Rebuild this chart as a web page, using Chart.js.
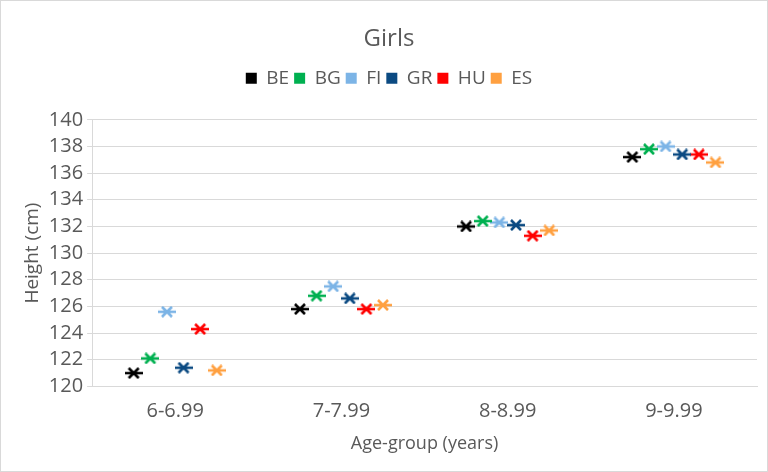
<!DOCTYPE html>
<html>
<head>
<meta charset="utf-8">
<script src="https://cdn.jsdelivr.net/npm/chart.js@4.4.0/dist/chart.umd.min.js"></script>
<style>
  html, body { margin: 0; padding: 0; background: #fff; }
  #wrap { position: relative; width: 766px; height: 470px; border: 1px solid #d9d9d9; }
</style>
</head>
<body>
<div id="wrap"><canvas id="chart"></canvas></div>
<script>
// Age groups (x categories)
const ageGroups = ['6-6.99', '7-7.99', '8-8.99', '9-9.99'];

// Mean height per country, cm
const countries = ['BE', 'BG', 'FI', 'GR', 'HU', 'ES'];
const heightBE = [121.0, 125.8, 132.0, 137.2];
const heightBG = [122.1, 126.8, 132.4, 137.8];
const heightFI = [125.6, 127.5, 132.3, 138.0];
const heightGR = [121.4, 126.6, 132.1, 137.4];
const heightHU = [124.3, 125.8, 131.3, 137.4];
const heightES = [121.2, 126.1, 131.7, 136.8];

// y axis ticks
const yTicks = [120, 122, 124, 126, 128, 130, 132, 134, 136, 138, 140];

const seriesValues = [heightBE, heightBG, heightFI, heightGR, heightHU, heightES];
const colors = ['#000000', '#00b050', '#7cb4e6', '#0b4a82', '#ff0000', '#ffa040'];
// small horizontal shift of each country inside its age group
const offsets = [-0.25, -0.15, -0.05, 0.05, 0.15, 0.25];

const font = "'Open Sans', 'DejaVu Sans', sans-serif";
const textColor = '#595959';

/**
 * Asterisk marker like the spreadsheet one: a bar with an X over it
 */
function makeMarker(color) {
  const c = document.createElement('canvas');
  c.width = 18;
  c.height = 12;
  const g = c.getContext('2d');
  g.strokeStyle = color;
  g.lineWidth = 2.6;
  g.beginPath();
  g.moveTo(0, 6); g.lineTo(18, 6);
  g.moveTo(4, 1); g.lineTo(14, 11);
  g.moveTo(14, 1); g.lineTo(4, 11);
  g.stroke();
  return c;
}

const datasets = countries.map((name, i) => ({
  label: name,
  data: seriesValues[i].map((v, k) => ({ x: k + 1 + offsets[i], y: v })),
  backgroundColor: colors[i],
  borderColor: colors[i],
  pointStyle: makeMarker(colors[i]),
  pointRadius: 8,
  showLine: false
}));

// extra room under the legend
const legendGap = {
  id: 'legendGap',
  beforeInit(chart) {
    const fit = chart.legend.fit;
    chart.legend.fit = function () {
      fit.bind(chart.legend)();
      this.height += 22;
    };
  }
};

new Chart(document.getElementById('chart'), {
  type: 'scatter',
  data: { datasets },
  plugins: [legendGap],
  options: {
    responsive: true,
    maintainAspectRatio: false,
    animation: false,
    layout: { padding: { left: 20, right: 10, top: 10, bottom: 12 } },
    plugins: {
      tooltip: { enabled: false },
      title: {
        display: true,
        text: 'Girls',
        color: textColor,
        font: { family: font, size: 24, weight: 'normal' },
        padding: { top: 14, bottom: 10 }
      },
      legend: {
        display: true,
        position: 'top',
        labels: {
          color: textColor,
          font: { family: font, size: 19 },
          boxWidth: 11,
          boxHeight: 11,
          padding: 5,
          generateLabels: chart => countries.map((name, i) => ({
            text: name,
            fillStyle: colors[i],
            strokeStyle: colors[i],
            lineWidth: 0,
            datasetIndex: i,
            fontColor: textColor
          }))
        }
      }
    },
    scales: {
      x: {
        type: 'linear',
        min: 0.5,
        max: 4.5,
        afterBuildTicks: axis => {
          axis.ticks = ageGroups.map((_, k) => ({ value: k + 1 }));
        },
        ticks: {
          color: textColor,
          font: { family: font, size: 20 },
          padding: 5,
          autoSkip: false,
          callback: v => ageGroups[Math.round(v) - 1] || ''
        },
        grid: { display: false },
        border: { display: true, color: '#d9d9d9' },
        title: {
          display: true,
          text: 'Age-group (years)',
          color: textColor,
          font: { family: font, size: 18 },
          padding: { top: 5 }
        }
      },
      y: {
        min: 120,
        max: 140,
        afterBuildTicks: axis => {
          axis.ticks = yTicks.map(v => ({ value: v }));
        },
        ticks: {
          color: textColor,
          font: { family: font, size: 20 },
          padding: 4,
          autoSkip: false
        },
        grid: { color: '#d9d9d9', tickLength: 5 },
        border: { display: true, color: '#d9d9d9' },
        title: {
          display: true,
          text: 'Height (cm)',
          color: textColor,
          font: { family: font, size: 19 },
          padding: { top: 0, bottom: 1 }
        }
      }
    }
  }
});
</script>
</body>
</html>
